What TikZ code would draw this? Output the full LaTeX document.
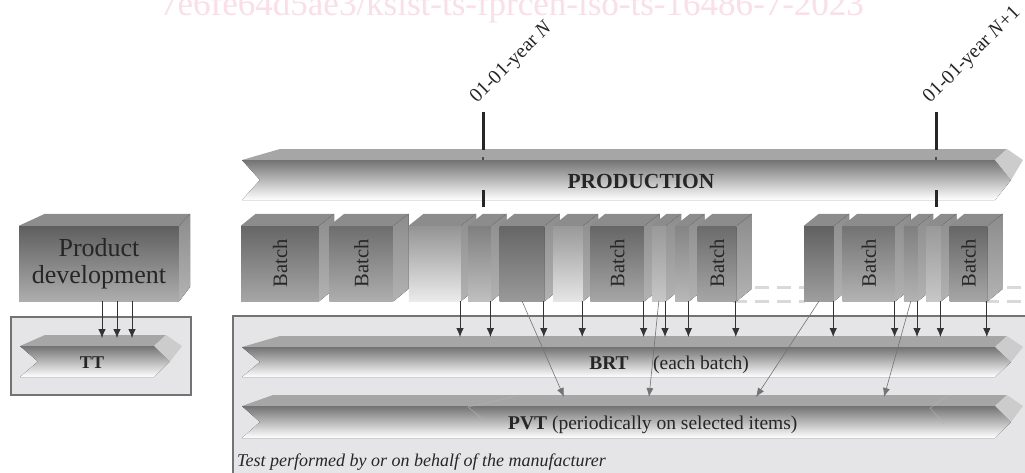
\documentclass[tikz,border=0pt]{standalone}
\usepackage{fontspec}
\setmainfont{Liberation Serif}
\usepackage{graphicx}
\usetikzlibrary{positioning,arrows.meta}

\definecolor{wmpink}{RGB}{251,222,230}
\definecolor{panelgray}{RGB}{229,229,231}

% top and side of a box, drawn from its front node
\newcommand{\boxfaces}[1]{%
  \fill[topface] (#1.north west) -- ++(15,-12) -- ([shift={(15,-12)}]#1.north east) -- (#1.north east) -- cycle;
  \fill[sideface] (#1.north east) -- ++(15,-12) -- ++(0,75) -- (#1.south east) -- cycle;}

% flat 3d arrow: left x, right x, top y, bottom y, inset of top face
\newcommand{\flatarrow}[5]{%
  \fill[arrowtop] (#1+#5,#3) -- (#2-16,#3) -- (#2-28,#3+11) -- (#1,#3+11) -- cycle;
  \fill[arrowfront] (#1,#3+11) -- (#2-28,#3+11) -- (#2-12,{(#3+11+#4)/2}) -- (#2-28,#4) -- (#1,#4) -- (#1+18,{(#3+11+#4)/2}) -- cycle;
  \fill[arrowside] (#2-16,#3) -- (#2,#3+11) -- (#2-12,{(#3+11+#4)/2}) -- (#2-28,#3+11) -- cycle;}

\begin{document}
\begin{tikzpicture}[x=1pt, y=-1pt,
  blockface/.style={inner sep=0, minimum height=75pt, text=black!85, font=\fontsize{20.5}{20.5}\selectfont},
  topface/.style={fill=black!45},
  sideface/.style={top color=black!45, bottom color=black!30},
  arrowtop/.style={fill=black!35},
  arrowfront/.style={top color=black!55, bottom color=white},
  arrowside/.style={fill=black!20},
  bartext/.style={inner sep=0, text=black!85, font=\fontsize{19.5}{20}\selectfont},
  panel/.style={draw=black!55, line width=1.2pt, fill=panelgray},
  flow/.style={-{Latex[length=9pt,width=7.5pt]}, draw=black!80, line width=0.8pt},
  slant/.style={-{Latex[length=9pt,width=7pt]}, draw=black!55, line width=0.6pt},
  dateline/.style={line width=3pt, black!85},
  datelabel/.style={rotate=45, anchor=base west, inner sep=0, text=black!85, font=\fontsize{20}{20}\selectfont},
  dashline/.style={black!15, line width=3pt, dash pattern=on 14pt off 8pt},
  seam/.style={black!30, line width=0.4pt}]

  \useasboundingbox (0,0) rectangle (1025,472);

  \node[anchor=base west, inner sep=0, text=wmpink, font=\fontsize{35}{35}\selectfont] (wm) at (160,15) {7e6fe64d5ae3/ksist-ts-fprcen-iso-ts-16486-7-2023};

  % panels
  \draw[panel] (11,317) rectangle (191,395);
  \draw[panel] (233,316) rectangle (1040,490);
  \node[anchor=base west, inner sep=0, text=black!85, font=\itshape\fontsize{18}{18}\selectfont] (mfr) at (237,466) {Test performed by or on behalf of the manufacturer};

  % dashed gaps
  \draw[dashline] (733,287) -- (805,287);
  \draw[dashline] (733,301) -- (805,301);
  \draw[dashline] (985,287) -- (1030,287);
  \draw[dashline] (985,301) -- (1030,301);

  % product development
  \node[inner sep=0, minimum width=160pt, minimum height=75pt, top color=black!63, bottom color=black!32,
        text=black!85, align=center, font=\fontsize{26}{27}\selectfont] (pd) at (99,263.5) {Product\\development};
  \fill[topface] (pd.north west) -- ++(26,-12) -- ([shift={(11,-12)}]pd.north east) -- (pd.north east) -- cycle;
  \fill[sideface] (pd.north east) -- ++(11,-12) -- ++(0,73) -- (pd.south east) -- cycle;

  % batches
  \node[blockface, minimum width=78pt, top color=black!60, bottom color=black!35] (b1) at (280,263.5) {\rotatebox{90}{Batch}};
  \boxfaces{b1}
  \node[blockface, minimum width=64pt, top color=black!57, bottom color=black!32] (b2) [right=10pt of b1] {\rotatebox{90}{Batch}};
  \boxfaces{b2}
  \node[blockface, minimum width=52pt, top color=black!42, bottom color=black!8] (b3) [right=15pt of b2] {};
  \boxfaces{b3}
  \node[blockface, minimum width=23pt, top color=black!50, bottom color=black!25] (b4) [right=7pt of b3] {};
  \boxfaces{b4}
  \node[blockface, minimum width=45pt, top color=black!60, bottom color=black!40] (b5) [right=8pt of b4] {};
  \boxfaces{b5}
  \node[blockface, minimum width=30pt, top color=black!40, bottom color=black!10] (b6) [right=8pt of b5] {};
  \boxfaces{b6}
  \node[blockface, minimum width=54pt, top color=black!60, bottom color=black!35] (b7) [right=7pt of b6] {\rotatebox{90}{Batch}};
  \boxfaces{b7}
  \node[blockface, minimum width=14pt, top color=black!40, bottom color=black!22] (b8) [right=7pt of b7] {};
  \boxfaces{b8}
  \node[blockface, minimum width=14pt, top color=black!48, bottom color=black!28] (b9) [right=9pt of b8] {};
  \boxfaces{b9}
  \node[blockface, minimum width=39pt, top color=black!58, bottom color=black!35] (b10) [right=8pt of b9] {\rotatebox{90}{Batch}};
  \boxfaces{b10}
  \node[blockface, minimum width=30pt, top color=black!62, bottom color=black!38] (b11) [right=67pt of b10] {};
  \boxfaces{b11}
  \node[blockface, minimum width=53pt, top color=black!55, bottom color=black!30] (b12) [right=8pt of b11] {\rotatebox{90}{Batch}};
  \boxfaces{b12}
  \node[blockface, minimum width=14pt, top color=black!50, bottom color=black!30] (b13) [right=8pt of b12] {};
  \boxfaces{b13}
  \node[blockface, minimum width=15pt, top color=black!40, bottom color=black!22] (b14) [right=8pt of b13] {};
  \boxfaces{b14}
  \node[blockface, minimum width=38pt, top color=black!60, bottom color=black!35] (b15) [right=8pt of b14] {\rotatebox{90}{Batch}};
  \boxfaces{b15}

  % flat arrows
  \flatarrow{242}{1023}{149}{200}{38}
  \flatarrow{242}{1023}{336}{377}{38}
  \flatarrow{242}{1023}{395}{438}{31}
  \flatarrow{20}{182}{335}{377}{25}
  \draw[seam] (517,396) -- (468,407) -- (486,422);
  \draw[seam] (947,396) -- (930,408) -- (944,424);

  \node[bartext, anchor=base, font=\bfseries\fontsize{21.5}{22}\selectfont] (prod) at (641,188) {PRODUCTION};
  \node[bartext, anchor=base, font=\bfseries\fontsize{18}{18}\selectfont] (tt) at (92,368) {TT};
  \node[bartext, anchor=base] (brt) at (609,369.5) {\textbf{BRT}};
  \node[bartext, anchor=base west] (each) at ([xshift=24pt]brt.base east) {(each batch)};
  \node[bartext, anchor=base west] (pvt) at (508,429.5) {\textbf{PVT} (periodically on selected items)};

  % year marks
  \coordinate (tN) at (483,112);
  \coordinate (tN1) at (936,112);
  \foreach \t in {tN,tN1} {
    \draw[dateline] (\t) -- ++(0,38);
    \draw[dateline] ([shift={(0,78)}]\t) -- ++(0,17);
    \draw[black!70, line width=2pt] ([shift={(0,45)}]\t) -- ++(0,3);
  }
  \node[datelabel] (dN) at (477,104) {01-01-year \textit{N}};
  \node[datelabel] (dN1) at (930,104) {01-01-year \textit{N}+1};

  % connectors
  \coordinate (brttop) at (0,337);
  \coordinate (tttop) at (0,338);
  \foreach \b in {b3,b4,b5,b6,b7,b8,b9,b10,b11,b12,b13,b14,b15}
    \draw[flow] ([xshift=-1pt]\b.south east) -- ([xshift=-1pt]\b.south east |- brttop);
  \foreach \s in {3,18,33}
    \draw[flow] ([xshift=\s pt]pd.south) -- ([xshift=\s pt]pd.south |- tttop);

  \coordinate (p1) at (564,397);
  \coordinate (p2) at (649,397);
  \coordinate (p3) at (756,397);
  \coordinate (p4) at (884,397);
  \draw[slant] (b5.south) -- (p1);
  \draw[slant] (b8.south) -- (p2);
  \draw[slant] (b11.south) -- (p3);
  \draw[slant] (b13.south) -- (p4);

\end{tikzpicture}
\end{document}
